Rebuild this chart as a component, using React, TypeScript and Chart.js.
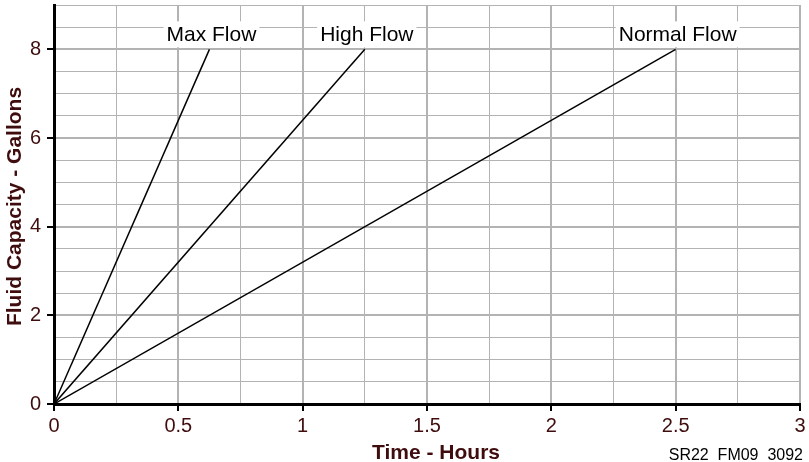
import React, { useEffect, useRef } from 'react';
import { Chart, registerables } from 'chart.js';

Chart.register(...registerables);

// ---- data ----
const seriesNames = ['Max Flow', 'High Flow', 'Normal Flow'];
const hoursToFill = [0.625, 1.25, 2.5]; // time (h) at which 8 gallons are reached
const startPoint = { hours: 0, gallons: 0 };
const fullGallons = 8;
const xTickLabels = ['0', '0.5', '1', '1.5', '2', '2.5', '3'];
const yTickLabels = ['0', '2', '4', '6', '8'];
const xTitle = 'Time - Hours';
const yTitle = 'Fluid Capacity - Gallons';
const footnote = 'SR22  FM09  3092';

const FONT = '"Liberation Sans", Arial, Helvetica, sans-serif';
const TEXT_COLOR = '#3f0d0d';
const GRID_COLOR = '#b3b3b3';

const annotationsPlugin = {
  id: 'annotations',
  afterDatasetsDraw(chart: any) {
    const { ctx, chartArea, scales } = chart;
    const xs = scales.x;
    const ys = scales.y;
    ctx.save();
    // series labels with white boxes
    ctx.font = `21px ${FONT}`;
    ctx.textAlign = 'center';
    ctx.textBaseline = 'alphabetic';
    seriesNames.forEach((name, i) => {
      const px = xs.getPixelForValue(hoursToFill[i]) + 2;
      const py = ys.getPixelForValue(fullGallons);
      const w = ctx.measureText(name).width;
      ctx.fillStyle = '#ffffff';
      ctx.fillRect(px - w / 2 - 3, py - 28, w + 6, 26);
      ctx.fillStyle = '#000000';
      ctx.fillText(name, px, py - 8);
    });
    // y title
    ctx.save();
    ctx.translate(15, (chartArea.top + chartArea.bottom) / 2 + 2);
    ctx.rotate(-Math.PI / 2);
    ctx.font = `bold 21px ${FONT}`;
    ctx.fillStyle = TEXT_COLOR;
    ctx.textAlign = 'center';
    ctx.textBaseline = 'middle';
    ctx.fillText(yTitle, 0, 0);
    ctx.restore();
    // x title
    ctx.font = `bold 21px ${FONT}`;
    ctx.fillStyle = TEXT_COLOR;
    ctx.textAlign = 'center';
    ctx.textBaseline = 'alphabetic';
    ctx.fillText(xTitle, (chartArea.left + chartArea.right) / 2 + 9, 459);
    // footnote
    ctx.font = `16px ${FONT}`;
    ctx.fillStyle = '#000000';
    ctx.textAlign = 'right';
    ctx.fillText(footnote, 803, 460);
    ctx.restore();
  },
};

export default function App() {
  const canvasRef = useRef<HTMLCanvasElement | null>(null);

  useEffect(() => {
    document.body.style.margin = '0';
    document.body.style.overflow = 'hidden';
    const canvas = canvasRef.current;
    if (!canvas) return;

    const isXMajor = (v: number) => xTickLabels.includes(String(v));
    const isYMajor = (v: number) => yTickLabels.includes(String(v));

    const chart = new Chart(canvas, {
      type: 'line',
      data: {
        datasets: seriesNames.map((name, i) => ({
          label: name,
          data: [
            { x: startPoint.hours, y: startPoint.gallons },
            { x: hoursToFill[i], y: fullGallons },
          ],
          borderColor: '#000000',
          borderWidth: 1.5,
          pointRadius: 0,
          fill: false,
          tension: 0,
        })),
      },
      options: {
        animation: false,
        responsive: false,
        maintainAspectRatio: false,
        layout: { padding: { top: 5, right: 9, left: 0, bottom: 0 } },
        plugins: {
          legend: { display: false },
          tooltip: { enabled: false },
          title: { display: false },
        },
        scales: {
          x: {
            type: 'linear',
            min: 0,
            max: 3,
            border: { display: true, color: '#000000', width: 3 },
            grid: {
              color: GRID_COLOR,
              lineWidth: (c: any) => (isXMajor(c.tick.value) ? 2 : 1),
              tickColor: (c: any) => (isXMajor(c.tick.value) ? '#000000' : 'rgba(0,0,0,0)'),
              tickLength: 7,
              tickWidth: 2,
              drawTicks: true,
            },
            ticks: {
              stepSize: 0.25,
              autoSkip: false,
              maxRotation: 0,
              padding: 3,
              color: TEXT_COLOR,
              font: { family: FONT, size: 20 },
              callback: (v: any) => (isXMajor(Number(v)) ? String(v) : ''),
            },
            afterFit: (s: any) => {
              s.height = 58;
              s.paddingLeft = 0;
              s.paddingRight = 0;
            },
          },
          y: {
            type: 'linear',
            min: 0,
            max: 9,
            border: { display: true, color: '#000000', width: 3 },
            grid: {
              color: GRID_COLOR,
              lineWidth: (c: any) => (isYMajor(c.tick.value) ? 2 : 1),
              tickColor: (c: any) => (isYMajor(c.tick.value) ? '#000000' : 'rgba(0,0,0,0)'),
              tickLength: 7,
              tickWidth: 2,
              drawTicks: true,
            },
            ticks: {
              stepSize: 0.5,
              autoSkip: false,
              padding: 6,
              color: TEXT_COLOR,
              font: { family: FONT, size: 20 },
              callback: (v: any) => (isYMajor(Number(v)) ? String(v) : ''),
            },
            afterFit: (s: any) => {
              s.width = 54;
              s.paddingTop = 0;
              s.paddingBottom = 0;
            },
          },
        },
      },
      plugins: [annotationsPlugin],
    });

    return () => chart.destroy();
  }, []);

  return (
    <div style={{ width: 809, height: 462, position: 'relative', background: '#ffffff' }}>
      <canvas ref={canvasRef} width={809} height={462} />
    </div>
  );
}
